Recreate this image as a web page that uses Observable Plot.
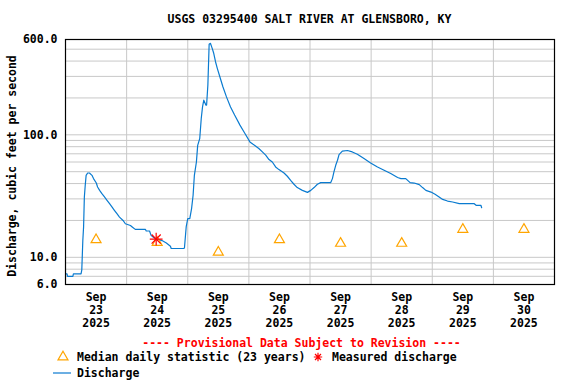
<!DOCTYPE html>
<html>
<head>
<meta charset="utf-8">
<script src="https://cdn.jsdelivr.net/npm/d3@7"></script>
<script src="https://cdn.jsdelivr.net/npm/@observablehq/plot@0.6"></script>
<style>
  body { margin: 0; background: white; }
  #chart { position: relative; width: 576px; height: 384px; }
</style>
</head>
<body>
<div id="chart"></div>
<script>
// Hours after 2025-09-23 00:00 and discharge (cfs)
const hours = [0, 0.6, 0.8, 2.9, 3.1, 6.1, 6.4, 6.8, 7.1, 7.4, 7.75, 8.1, 8.7, 9.4, 10.4, 11, 12.1, 12.6, 13.4, 14.3, 15.3, 16.3, 17.3, 18.3, 19.2, 20.2, 21.2, 22.6, 23.5, 25.5, 26.2, 27.4, 31.4, 31.7, 33.0, 33.6, 34.5, 35.3, 37.9, 39.6, 41.2, 41.5, 46.4, 46.7, 47.4, 48.0, 48.8, 49.5, 50.1, 50.6, 51.4, 51.9, 52.7, 53.3, 53.8, 54.3, 55.1, 55.4, 55.9, 56.4, 56.9, 57.6, 58.2, 58.9, 59.6, 60.6, 61.8, 63.2, 64.8, 66.4, 68.5, 70.4, 72.4, 73.5, 74.2, 75.9, 77.3, 78.6, 79.9, 81.2, 82.5, 83.8, 85.8, 87.1, 88.4, 89.7, 91, 93, 95, 96.3, 97.6, 98.9, 100.2, 104.1, 104.8, 105.4, 106.1, 106.8, 107.4, 108.7, 110.7, 112.6, 114.6, 117.2, 119.8, 122.5, 125.1, 127.7, 130.4, 131.7, 133.6, 135.3, 136.9, 138.9, 140.2, 141.5, 143.5, 145.1, 146.7, 148.1, 150, 152, 154.6, 160.5, 161.2, 163.1, 163.4];
const discharge = [7.34, 7.34, 7.0, 7.0, 7.34, 7.34, 7.9, 13.7, 17.7, 31, 38.7, 46.7, 48.8, 48.8, 46.7, 43.9, 40.4, 37.5, 35.2, 33.1, 31.1, 29.2, 27.4, 25.7, 24.2, 22.7, 21.3, 20.0, 18.8, 18.2, 17.7, 16.9, 16.9, 16.4, 16.4, 15.1, 14.6, 14.2, 13.7, 13.1, 12.3, 11.8, 11.8, 11.9, 17.8, 20.7, 20.7, 25, 32.1, 46.7, 60, 82, 93, 136, 169, 192, 175, 175, 255, 548, 559, 508, 463, 395, 349, 298, 247, 204, 169, 145, 120, 103, 87.5, 84, 82.3, 77.3, 72.5, 68.2, 62.8, 60, 54.7, 52, 48.8, 45.9, 42.5, 39.5, 37.1, 35.2, 33.9, 35.2, 37.1, 39.5, 40.7, 40.7, 43.9, 49.8, 56.4, 62, 69, 73.5, 74.5, 72.5, 69.4, 64, 59, 54.7, 51.4, 48.3, 44.8, 43.9, 43.9, 40.7, 40.4, 39.2, 37.1, 35.2, 34.1, 32.7, 31.1, 29.7, 28.8, 28.3, 27.4, 27.4, 26.6, 26.6, 25.4];

// Median daily statistic (23 years), one per day at noon
const medianDays = [23, 24, 25, 26, 27, 28, 29, 30];
const medianValues = [13.9, 13.2, 11.0, 13.9, 13.0, 13.0, 16.9, 16.9];

// Measured discharge
const measuredHours = [35.6];
const measuredValues = [14.1];

// Axis ticks / grid
const yTicks = [6, 10, 100, 600];
const yGrid = [7, 8, 9, 10, 20, 30, 40, 50, 60, 70, 80, 90, 100, 200, 300, 400, 500];
const tickDays = [23, 24, 25, 26, 27, 28, 29, 30];
const gridDays = [24, 25, 26, 27, 28, 29, 30];

const t0 = Date.UTC(2025, 8, 23);
const hourDate = h => new Date(t0 + h * 3600e3);
const dayDate = (d, h) => new Date(Date.UTC(2025, 8, d, h));

const flow = hours.map((h, i) => ({date: hourDate(h), value: discharge[i]}));
const medians = medianDays.map((d, i) => ({date: dayDate(d, 12), value: medianValues[i]}));
const measured = measuredHours.map((h, i) => ({date: hourDate(h), value: measuredValues[i]}));

const FONT = "'DejaVu Sans Mono', monospace";

const chart = Plot.plot({
  width: 576,
  height: 384,
  marginTop: 39,
  marginRight: 22,
  marginBottom: 100,
  marginLeft: 65,
  style: {fontFamily: FONT, fontWeight: "bold", fontSize: "11.5px", color: "black", background: "white"},
  x: {type: "utc", domain: [dayDate(23, 0), dayDate(31, 0)], axis: null},
  y: {type: "log", domain: [6, 600], axis: null},
  marks: [
    Plot.ruleY(yGrid, {stroke: "#c8c8c8", strokeWidth: 1, strokeOpacity: 1}),
    Plot.ruleX(gridDays.map(d => dayDate(d, 0)), {stroke: "#c8c8c8", strokeWidth: 1, strokeOpacity: 1}),
    Plot.text(yTicks, {y: d => d, text: d => d3.format(".1f")(d), frameAnchor: "left", textAnchor: "end", dx: -8, fontSize: 11.5, fontWeight: "bold", fill: "black"}),
    Plot.axisX({ticks: tickDays.map(d => dayDate(d, 12)), tickFormat: d => `Sep\n${d.getUTCDate()}\n2025`, tickSize: 0, tickPadding: 8, label: null, lineHeight: 1.1, fontSize: 11.5, fontWeight: "bold"}),
    Plot.line(flow, {x: "date", y: "value", stroke: "#0a7bd0", strokeWidth: 1.2}),
    Plot.dot(medians, {x: "date", y: "value", symbol: "triangle", stroke: "#ffa500", strokeWidth: 1.2, r: 3.7}),
    Plot.dot(measured, {x: "date", y: "value", symbol: "plus", stroke: "red", strokeWidth: 1.2, r: 4.2}),
    Plot.dot(measured, {x: "date", y: "value", symbol: "times", stroke: "red", strokeWidth: 1.2, r: 4.2}),
    Plot.frame({stroke: "black", strokeWidth: 1.2})
  ]
});

document.getElementById("chart").appendChild(chart);

// Title, axis label, legend
const svg = d3.select(chart);
const g = svg.append("g").attr("font-family", FONT).attr("font-weight", "bold").attr("font-size", 11.5).attr("text-anchor", "start").attr("fill", "black");
g.append("text").attr("x", 309.5).attr("y", 19).attr("text-anchor", "middle").attr("dominant-baseline", "central")
  .text("USGS 03295400 SALT RIVER AT GLENSBORO, KY");
g.append("text").attr("transform", "translate(12,166) rotate(-90)").attr("text-anchor", "middle").attr("dominant-baseline", "central")
  .text("Discharge, cubic feet per second");
g.append("text").attr("x", 301.5).attr("y", 343).attr("text-anchor", "middle").attr("dominant-baseline", "central").attr("fill", "red")
  .text("---- Provisional Data Subject to Revision ----");

// legend row 1
const tri = d3.symbol(d3.symbolTriangle, 43);
g.append("path").attr("d", tri()).attr("transform", "translate(63,357)").attr("fill", "none").attr("stroke", "#ffa500").attr("stroke-width", 1.2);
g.append("text").attr("x", 77).attr("y", 357).attr("text-anchor", "start").attr("dominant-baseline", "central").text("Median daily statistic (23 years)");
const star = g.append("g").attr("transform", "translate(318,357)").attr("stroke", "red").attr("stroke-width", 1.2);
star.append("path").attr("d", "M-4.2,0H4.2M0,-4.2V4.2M-3,-3L3,3M-3,3L3,-3");
g.append("text").attr("x", 332).attr("y", 357).attr("text-anchor", "start").attr("dominant-baseline", "central").text("Measured discharge");
// legend row 2
g.append("line").attr("x1", 53).attr("x2", 71).attr("y1", 373).attr("y2", 373).attr("stroke", "#0a7bd0").attr("stroke-width", 1.2);
g.append("text").attr("x", 77).attr("y", 373).attr("text-anchor", "start").attr("dominant-baseline", "central").text("Discharge");
</script>
</body>
</html>
